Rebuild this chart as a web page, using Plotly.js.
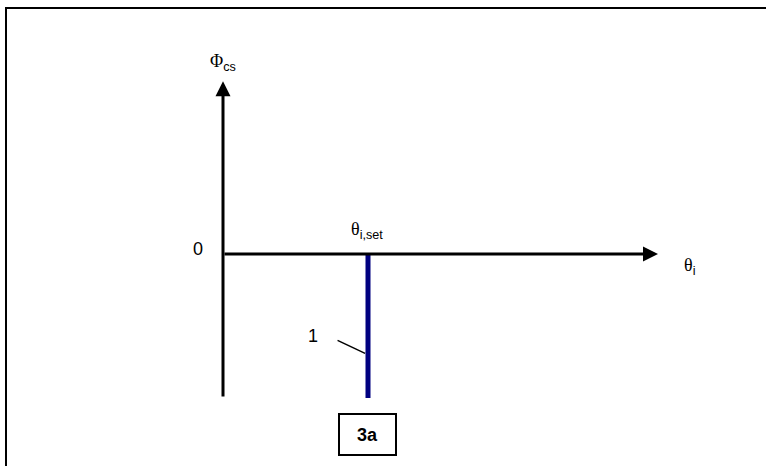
<!DOCTYPE html>
<html>
<head>
<meta charset="utf-8">
<script src="https://cdn.plot.ly/plotly-3.0.1.min.js"></script>
<style>html,body{margin:0;padding:0;background:#fff;}#chart{width:766px;height:466px;}</style>
</head>
<body>
<div id="chart"></div>
<script>
// Schematic values (θi horizontal, Φcs vertical; origin at 0,0)
const thetaAxis = [0, 3];          // θi axis: from origin to arrow tip
const phiAxis = [-1, 1.2];         // Φcs axis: bottom end to arrow tip
const thetaSet = [1, 1];           // θi,set position for line 1
const phiLine1 = [0, -1];          // line 1: Φcs from 0 down to -1
const leaderTheta = [0.79, 0.98];  // leader for label "1"
const leaderPhi = [-0.6, -0.69];
const labels = {
  zero: '0',
  yName: '<span style="font-family:\'Liberation Serif\'">Φ</span><sub>cs</sub>',
  setName: '<span style="font-family:\'Liberation Serif\'">θ</span><sub>i,set</sub>',
  xName: '<span style="font-family:\'Liberation Serif\'">θ</span><sub>i</sub>',
  line: '1',
  box: '<b>3a</b>'
};

const traces = [
  {x: thetaSet, y: phiLine1, mode: 'lines', line: {color: '#000080', width: 5}, hoverinfo: 'skip'},
  {x: leaderTheta, y: leaderPhi, mode: 'lines', line: {color: '#000', width: 1.5}, hoverinfo: 'skip'}
];

const txt = {family: 'Liberation Sans, Arial, sans-serif', size: 18, color: '#000'};
const layout = {
  width: 766, height: 466,
  margin: {l: 0, r: 0, t: 0, b: 0},
  paper_bgcolor: '#fff', plot_bgcolor: '#fff',
  showlegend: false,
  xaxis: {range: [-223/145, 543/145], visible: false, fixedrange: true},
  yaxis: {range: [-212/144, 254/144], visible: false, fixedrange: true},
  shapes: [
    {type: 'rect', xref: 'paper', yref: 'paper', x0: 6/766, x1: 1.05, y0: -0.05, y1: 1 - 8/466,
     line: {color: '#000', width: 2}, fillcolor: 'rgba(0,0,0,0)'}
  ],
  annotations: [
    {x: thetaAxis[1], y: 0, ax: thetaAxis[0], ay: 0, axref: 'x', ayref: 'y', xref: 'x', yref: 'y',
     text: '', showarrow: true, arrowhead: 2, arrowsize: 1, arrowwidth: 3, arrowcolor: '#000', standoff: 0},
    {x: 0, y: phiAxis[1], ax: 0, ay: phiAxis[0], axref: 'x', ayref: 'y', xref: 'x', yref: 'y',
     text: '', showarrow: true, arrowhead: 2, arrowsize: 1, arrowwidth: 3, arrowcolor: '#000', standoff: 0},
    {x: -0.17, y: 0.035, text: labels.zero, showarrow: false, font: txt},
    {x: 0.0, y: 1.33, text: labels.yName, showarrow: false, font: txt},
    {x: thetaSet[0] - 0.01, y: 0.16, text: labels.setName, showarrow: false, font: txt},
    {x: 3.22, y: -0.09, text: labels.xName, showarrow: false, font: txt},
    {x: 0.62, y: -0.57, text: labels.line, showarrow: false, font: txt},
    {x: thetaSet[0] - 0.005, y: -1.253, text: labels.box, showarrow: false, font: txt,
     width: 55, height: 39, bordercolor: '#000', borderwidth: 2, borderpad: 0, bgcolor: '#fff'}
  ]
};

Plotly.newPlot('chart', traces, layout, {staticPlot: true, displayModeBar: false});
</script>
</body>
</html>
